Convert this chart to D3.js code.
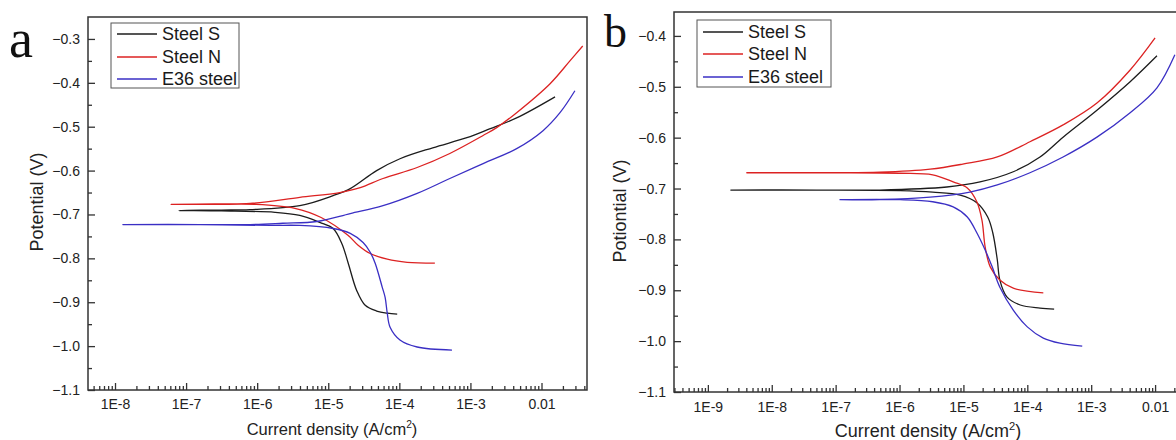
<!DOCTYPE html>
<html>
<head>
<meta charset="utf-8">
<script src="https://cdn.jsdelivr.net/npm/d3@7"></script>
<style>
  body { margin: 0; background: #fff; }
  svg { display: block; font-family: "Liberation Sans", Arial, sans-serif; }
  .tick text { font-size: 14px; fill: #222; }
  .tick line { stroke: #333; stroke-width: 1.3; }
</style>
</head>
<body>
<svg id="chart" width="1176" height="440"></svg>
<script>
// ---- data: [current density (A/cm2), potential (V)] per sweep, cathodic end -> Ecorr -> anodic end
const seriesNames = ["Steel S", "Steel N", "E36 steel"];
const seriesColors = ["#1c1c1c", "#dc2222", "#3a2fc4"];

const steelS_a = [
  [9.33e-5, -0.927], [6.76e-5, -0.925], [4.79e-5, -0.920], [3.31e-5, -0.907], [2.51e-5, -0.873],
  [1.91e-5, -0.811], [1.55e-5, -0.766], [1.17e-5, -0.732], [7.59e-6, -0.718], [3.98e-6, -0.702],
  [1.78e-6, -0.695], [3.16e-7, -0.692], [7.94e-8, -0.691],
  [3.16e-7, -0.690], [7.94e-7, -0.689], [3.98e-6, -0.680], [1.17e-5, -0.657], [2.04e-5, -0.641],
  [4.79e-5, -0.600], [1.02e-4, -0.573], [2.95e-4, -0.548], [8.91e-4, -0.525], [1.86e-3, -0.505],
  [4.47e-3, -0.480], [1.55e-2, -0.432]
];
const steelN_a = [
  [3.16e-4, -0.811], [1.29e-4, -0.809], [6.76e-5, -0.802], [3.89e-5, -0.789], [2.63e-5, -0.770],
  [1.91e-5, -0.748], [7.94e-6, -0.707], [3.39e-6, -0.686], [9.33e-7, -0.677], [2.51e-7, -0.677],
  [6.17e-8, -0.677],
  [2.51e-7, -0.676], [7.94e-7, -0.675], [3.98e-6, -0.661], [1.45e-5, -0.650], [2.82e-5, -0.639],
  [5.89e-5, -0.618], [1.78e-4, -0.593], [5.13e-4, -0.561], [1.51e-3, -0.520], [2.34e-3, -0.502],
  [4.47e-3, -0.468], [1.32e-2, -0.402], [2.51e-2, -0.350], [3.80e-2, -0.316]
];
const e36_a = [
  [5.50e-4, -1.009], [1.78e-4, -1.002], [1.02e-4, -0.986], [7.41e-5, -0.957], [6.76e-5, -0.925],
  [6.31e-5, -0.889], [5.75e-5, -0.866], [4.57e-5, -0.811], [3.89e-5, -0.786], [3.09e-5, -0.764],
  [2.04e-5, -0.743], [1.17e-5, -0.732], [3.98e-6, -0.725], [1.55e-6, -0.725], [1.58e-7, -0.723],
  [1.29e-8, -0.723],
  [1.58e-7, -0.723], [7.94e-7, -0.723], [2.29e-6, -0.720], [6.92e-6, -0.716], [2.04e-5, -0.698],
  [5.89e-5, -0.680], [1.78e-4, -0.652], [5.13e-4, -0.618], [1.51e-3, -0.584], [4.47e-3, -0.550],
  [1.05e-2, -0.509], [1.82e-2, -0.468], [2.95e-2, -0.418]
];

const steelS_b = [
  [2.63e-4, -0.937], [1.58e-4, -0.935], [7.76e-5, -0.929], [4.79e-5, -0.913], [3.72e-5, -0.880],
  [3.39e-5, -0.840], [2.88e-5, -0.787], [2.40e-5, -0.756], [1.62e-5, -0.728], [8.91e-6, -0.713],
  [3.31e-6, -0.707], [1.02e-6, -0.704], [5.01e-8, -0.703], [2.29e-9, -0.703],
  [5.01e-8, -0.703], [4.90e-7, -0.703], [5.50e-6, -0.697], [1.82e-5, -0.687], [6.03e-5, -0.667],
  [1.58e-4, -0.638], [3.63e-4, -0.599], [1.23e-3, -0.546], [4.07e-3, -0.490], [1.07e-2, -0.439]
];
const steelN_b = [
  [1.78e-4, -0.905], [6.03e-5, -0.896], [3.72e-5, -0.880], [2.63e-5, -0.854], [2.19e-5, -0.815],
  [1.95e-5, -0.762], [1.62e-5, -0.726], [1.15e-5, -0.699], [6.92e-6, -0.687], [3.31e-6, -0.673],
  [1.02e-6, -0.670], [1.00e-7, -0.669], [4.07e-9, -0.669],
  [1.00e-7, -0.669], [4.90e-7, -0.668], [3.02e-6, -0.662], [9.77e-6, -0.652], [3.39e-5, -0.638],
  [1.10e-4, -0.608], [3.63e-4, -0.575], [1.23e-3, -0.532], [4.07e-3, -0.467], [1.00e-2, -0.404]
];
const e36_b = [
  [7.24e-4, -1.010], [3.24e-4, -1.004], [1.78e-4, -0.994], [1.00e-4, -0.972], [6.03e-5, -0.939],
  [3.72e-5, -0.894], [2.82e-5, -0.854], [2.19e-5, -0.821], [1.62e-5, -0.787], [1.15e-5, -0.756],
  [6.92e-6, -0.736], [3.31e-6, -0.726], [1.02e-6, -0.722], [1.17e-7, -0.722],
  [4.90e-7, -0.722], [3.02e-6, -0.717], [1.26e-5, -0.707], [3.39e-5, -0.693], [1.10e-4, -0.669],
  [3.63e-4, -0.638], [1.23e-3, -0.599], [4.07e-3, -0.551], [1.07e-2, -0.502], [2.04e-2, -0.437]
];

// tick values / labels
const xTicksA = [1e-8, 1e-7, 1e-6, 1e-5, 1e-4, 1e-3, 1e-2];
const xTicksB = [1e-9, 1e-8, 1e-7, 1e-6, 1e-5, 1e-4, 1e-3, 1e-2];
const xTickLabels = { "-9": "1E-9", "-8": "1E-8", "-7": "1E-7", "-6": "1E-6", "-5": "1E-5", "-4": "1E-4", "-3": "1E-3", "-2": "0.01" };
const yTicksA = [-0.3, -0.4, -0.5, -0.6, -0.7, -0.8, -0.9, -1.0, -1.1];
const yTicksB = [-0.4, -0.5, -0.6, -0.7, -0.8, -0.9, -1.0, -1.1];

const panels = [
  { id: "a", series: [steelS_a, steelN_a, e36_a], xTicks: xTicksA, yTicks: yTicksA,
    left: 88, top: 17, right: 587, bottom: 390,
    xDomain: [Math.pow(10, -8.38), Math.pow(10, -1.36)], yDomain: [-1.1, -0.25],
    yTitle: "Potential (V)", yTitleX: 37, yTitleY: 202, yTitleSize: 18,
    xTitleX: 332, xTitleY: 435, xTitleSize: 16.5, xPad: 9,
    letter: "a", letterX: 9, letterY: 57, letterSize: 54,
    legend: { x: 111, y: 23, w: 128, h: 65, rows: [34, 57, 79] } },
  { id: "b", series: [steelS_b, steelN_b, e36_b], xTicks: xTicksB, yTicks: yTicksB,
    left: 674, top: 12, right: 1180, bottom: 392,
    xDomain: [Math.pow(10, -9.53), Math.pow(10, -1.61)], yDomain: [-1.1, -0.353],
    yTitle: "Potiontial (V)", yTitleX: 620, yTitleY: 211, yTitleSize: 18,
    xTitleX: 928, xTitleY: 437, xTitleSize: 18, xPad: 10,
    letter: "b", letterX: 604, letterY: 47, letterSize: 46,
    legend: { x: 697, y: 20, w: 134, h: 67, rows: [32, 54, 77] } }
];

const svg = d3.select("#chart");

panels.forEach(p => {
  const x = d3.scaleLog().domain(p.xDomain).range([p.left, p.right]);
  const y = d3.scaleLinear().domain(p.yDomain).range([p.bottom, p.top]);
  const g = svg.append("g").attr("class", "panel-" + p.id);

  // minor ticks (log 2..9, potential every 0.05)
  const minorX = [];
  for (let e = -11; e <= 0; e++) for (let k = 2; k <= 9; k++) {
    const v = k * Math.pow(10, e);
    if (v > p.xDomain[0] && v < p.xDomain[1]) minorX.push(v);
  }
  const minorY = d3.range(-1.05, p.yDomain[1], 0.1);

  g.append("g").attr("transform", `translate(0,${p.bottom})`)
    .call(d3.axisBottom(x).tickValues(minorX).tickSize(-4).tickFormat(""))
    .call(s => s.select(".domain").remove());
  g.append("g").attr("transform", `translate(${p.left},0)`)
    .call(d3.axisLeft(y).tickValues(minorY).tickSize(-4).tickFormat(""))
    .call(s => s.select(".domain").remove());

  g.append("g").attr("transform", `translate(0,${p.bottom})`)
    .call(d3.axisBottom(x).tickValues(p.xTicks).tickSize(-7).tickPadding(p.xPad)
      .tickFormat(d => xTickLabels[Math.round(Math.log10(d))]))
    .call(s => s.select(".domain").remove());
  g.append("g").attr("transform", `translate(${p.left},0)`)
    .call(d3.axisLeft(y).tickValues(p.yTicks).tickSize(-7).tickPadding(8)
      .tickFormat(d3.format(".1f")))
    .call(s => s.select(".domain").remove());

  // clip + curves
  svg.append("defs").append("clipPath").attr("id", "clip-" + p.id)
    .append("rect").attr("x", p.left).attr("y", p.top)
    .attr("width", p.right - p.left).attr("height", p.bottom - p.top);

  const line = d3.line()
    .x(d => x(d[0])).y(d => y(d[1]))
    .curve(d3.curveCatmullRom.alpha(0.5));

  g.append("g").attr("clip-path", `url(#clip-${p.id})`)
    .selectAll("path").data(p.series).join("path")
    .attr("d", line)
    .attr("fill", "none")
    .attr("stroke", (d, i) => seriesColors[i])
    .attr("stroke-width", 1.3)
    .attr("stroke-linejoin", "round");

  // frame
  g.append("rect")
    .attr("x", p.left).attr("y", p.top)
    .attr("width", p.right - p.left).attr("height", p.bottom - p.top)
    .attr("fill", "none").attr("stroke", "#333").attr("stroke-width", 1.5);

  // legend
  const L = p.legend;
  const lg = g.append("g");
  lg.append("rect").attr("x", L.x).attr("y", L.y).attr("width", L.w).attr("height", L.h)
    .attr("fill", "#fff").attr("stroke", "#555").attr("stroke-width", 1);
  seriesNames.forEach((name, i) => {
    lg.append("line")
      .attr("x1", L.x + 6).attr("x2", L.x + 46)
      .attr("y1", L.rows[i]).attr("y2", L.rows[i])
      .attr("stroke", seriesColors[i]).attr("stroke-width", 1.5);
    lg.append("text")
      .attr("x", L.x + 51).attr("y", L.rows[i]).attr("dy", "0.36em")
      .attr("font-size", 18).attr("fill", "#1a1a1a")
      .text(name);
  });

  // axis titles
  g.append("text")
    .attr("transform", `translate(${p.yTitleX},${p.yTitleY}) rotate(-90)`)
    .attr("text-anchor", "middle").attr("dy", "0.35em")
    .attr("font-size", p.yTitleSize).attr("fill", "#222")
    .text(p.yTitle);

  const xt = g.append("text")
    .attr("x", p.xTitleX).attr("y", p.xTitleY)
    .attr("text-anchor", "middle")
    .attr("font-size", p.xTitleSize).attr("fill", "#222");
  xt.append("tspan").text("Current density (A/cm");
  xt.append("tspan").attr("font-size", p.xTitleSize * 0.62).attr("dy", -7).text("2");
  xt.append("tspan").attr("dy", 7).text(")");

  // panel letter
  g.append("text")
    .attr("x", p.letterX).attr("y", p.letterY)
    .attr("font-family", "'Liberation Serif', 'Times New Roman', serif")
    .attr("font-size", p.letterSize).attr("fill", "#111")
    .text(p.letter);
});
</script>
</body>
</html>
